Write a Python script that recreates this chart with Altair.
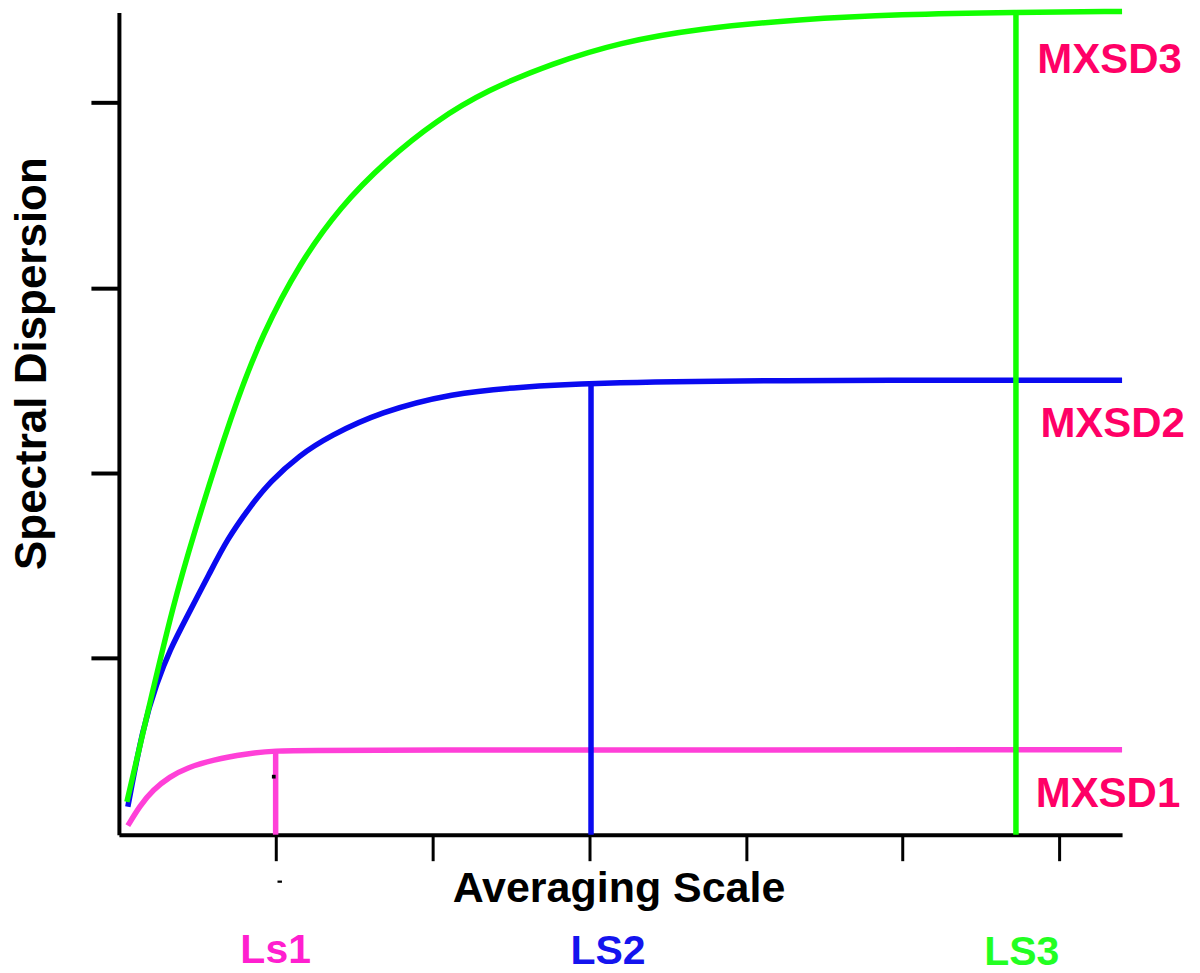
import altair as alt
import pandas as pd

# ---- data (x in "averaging scale" units, y in "dispersion" units) ----
pink_x = [0.057, 0.134, 0.217, 0.325, 0.433, 0.599, 0.816, 0.981, 1.281, 6.4]
pink_y = [0.049, 0.157, 0.243, 0.314, 0.362, 0.405, 0.438, 0.454, 0.459, 0.459]

blue_x = [0.057, 0.153, 0.242, 0.325, 0.433, 0.580, 0.688, 0.835, 0.962, 1.153,
          1.345, 1.663, 2.129, 2.556, 3.002, 4.022, 6.4]
blue_y = [0.151, 0.584, 0.822, 1.000, 1.178, 1.416, 1.595, 1.773, 1.908, 2.054,
          2.157, 2.286, 2.389, 2.422, 2.443, 2.459, 2.459]

green_x = [0.051, 0.217, 0.344, 0.465, 0.726, 0.918, 1.154, 1.409, 1.708, 2.027,
           2.346, 2.766, 3.193, 3.703, 4.341, 4.978, 5.723, 6.4]
green_y = [0.178, 0.784, 1.232, 1.595, 2.297, 2.714, 3.092, 3.395, 3.649, 3.865,
           4.027, 4.173, 4.286, 4.362, 4.411, 4.438, 4.449, 4.454]

# Vertical markers (scale, top value)
vline_series = ["pink", "blue", "green"]
vline_x = [1.0, 3.012, 5.723]
vline_top = [0.459, 2.443, 4.449]

# Labels at right
mx_labels = ["MXSD3", "MXSD2", "MXSD1"]
mx_x = [6.32, 6.34, 6.31]
mx_y = [4.119, 2.151, 0.151]

# Labels below axis
ls_labels = ["Ls1", "LS2", "LS3"]
ls_x = [1.0, 3.12, 5.76]
ls_y = [-0.692, -0.697, -0.703]
ls_colors = ["#FF1FCF", "#1414EE", "#22FF22"]

# tiny stray marks
dot_x = [0.988]
dot_y = [0.314]
dash_x = [1.026]
dash_y = [-0.254]

x_ticks = [1, 2, 3, 4, 5, 6]
y_ticks = [0.957, 1.957, 2.957, 3.962]

colors = {"pink": "#FF40D8", "blue": "#0A0AF0", "green": "#11FF00"}

W, H = 1004, 823
FONT = "Liberation Sans"
xs = alt.Scale(domain=[0, 6.4], nice=False, zero=False)
ys = alt.Scale(domain=[0, 823 / 185], nice=False, zero=False)

x_axis = alt.Axis(
    values=x_ticks, labels=False, grid=False,
    domainColor="black", domainWidth=4,
    tickColor="black", tickWidth=3, tickSize=26,
    title="Averaging Scale", titleFont=FONT, titleFontSize=43,
    titleFontWeight="bold", titleColor="black",
    titleX=500, titleY=67, titleBaseline="alphabetic", titleAlign="center",
)
y_axis = alt.Axis(
    values=y_ticks, labels=False, grid=False,
    domainColor="black", domainWidth=4,
    tickColor="black", tickWidth=4, tickSize=28,
    title="Spectral Dispersion", titleFont=FONT, titleFontSize=44,
    titleFontWeight="bold", titleColor="black",
    titleX=-73, titleY=351, titleBaseline="alphabetic", titleAlign="center",
    titleAngle=270,
)


def X(f):
    return alt.X(f, scale=xs, axis=x_axis)


def Y(f):
    return alt.Y(f, scale=ys, axis=y_axis)


def curve(xv, yv, col):
    df = pd.DataFrame({"x": xv, "y": yv})
    return alt.Chart(df).mark_line(
        color=col, strokeWidth=5.5, interpolate="basis", strokeCap="butt"
    ).encode(x=X("x:Q"), y=Y("y:Q"))


def vline(i):
    df = pd.DataFrame({"x": [vline_x[i]], "y0": [0.0], "y1": [vline_top[i]]})
    return alt.Chart(df).mark_rule(
        color=colors[vline_series[i]], strokeWidth=5.5, strokeCap="butt"
    ).encode(x=X("x:Q"), y=Y("y0:Q"), y2="y1:Q")


mx_df = pd.DataFrame({"t": mx_labels, "x": mx_x, "y": mx_y})
mx = alt.Chart(mx_df).mark_text(
    font=FONT, fontSize=42, fontWeight="bold", color="#FF0066",
    align="center", baseline="alphabetic"
).encode(x=X("x:Q"), y=Y("y:Q"), text="t:N")

ls_df = pd.DataFrame({"t": ls_labels, "x": ls_x, "y": ls_y, "c": ls_colors})
ls = alt.Chart(ls_df).mark_text(
    font=FONT, fontSize=41, fontWeight="bold",
    align="center", baseline="alphabetic"
).encode(x=X("x:Q"), y=Y("y:Q"), text="t:N",
         color=alt.Color("c:N", scale=None))

dot = alt.Chart(pd.DataFrame({"x": dot_x, "y": dot_y})).mark_point(
    shape="square", filled=True, color="black", size=14, opacity=1
).encode(x=X("x:Q"), y=Y("y:Q"))

dash = alt.Chart(pd.DataFrame({"x": dash_x, "y": dash_y})).mark_point(
    shape="M-1,-0.5H1V0.5H-1Z", filled=True, color="black", size=20, opacity=1
).encode(x=X("x:Q"), y=Y("y:Q"))

chart = alt.layer(
    curve(pink_x, pink_y, colors["pink"]),
    vline(0),
    curve(blue_x, blue_y, colors["blue"]),
    vline(1),
    curve(green_x, green_y, colors["green"]),
    vline(2),
    dot, dash, mx, ls,
).properties(
    width=W, height=H,
    autosize=alt.AutoSizeParams(type="none"),
    padding={"left": 111, "top": 4, "right": 70, "bottom": 138},
    background="white",
).configure_view(stroke=None)

chart.save("out.html", embed_options={"renderer": "svg", "actions": False})
